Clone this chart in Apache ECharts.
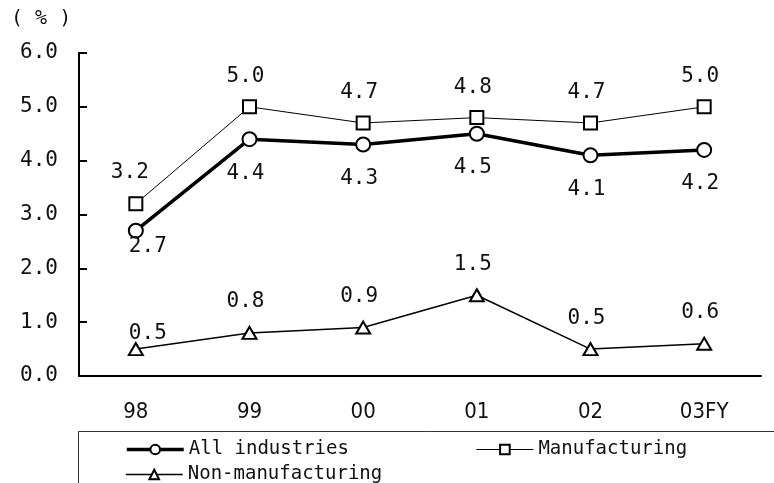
<!DOCTYPE html>
<html>
<head>
<meta charset="utf-8">
<script src="https://cdn.jsdelivr.net/npm/echarts@6/dist/echarts.min.js"></script>
<style>
  html, body { margin: 0; padding: 0; background: #fff; }
  #chart { width: 774px; height: 483px; }
</style>
</head>
<body>
<div id="chart"></div>
<script>
// Fiscal years on the category axis
const years = ['98', '99', '00', '01', '02', '03FY'];

// Ratios (%) by sector
const allIndustries = [2.7, 4.4, 4.3, 4.5, 4.1, 4.2];
const manufacturing = [3.2, 5.0, 4.7, 4.8, 4.7, 5.0];
const nonManufacturing = [0.5, 0.8, 0.9, 1.5, 0.5, 0.6];

// Value axis ticks
const yTicks = [0, 1, 2, 3, 4, 5, 6];

const numFont = '"DejaVu Sans Mono", "Liberation Mono", monospace';
const catFont = '"Liberation Sans Narrow", "DejaVu Sans Condensed", "Liberation Sans", sans-serif';

// Label placement: above (negative dy) or below the marker, with an optional
// override for the first point of a series.
function withLabels(values, dy, firstOffset) {
  return values.map((v, i) => ({
    value: v,
    label: {
      offset: i === 0 && firstOffset ? firstOffset : [-4, dy]
    }
  }));
}

const baseLabel = {
  show: true,
  position: 'inside',
  fontFamily: numFont,
  fontSize: 21,
  color: '#111',
  formatter: p => p.value.toFixed(1)
};

const legendText = { fontFamily: numFont, fontSize: 19, color: '#111' };

const chart = echarts.init(document.getElementById('chart'), null, { renderer: 'canvas' });

chart.setOption({
  animation: false,
  backgroundColor: '#fff',
  grid: { left: 79, right: 13, top: 53, bottom: 107 },
  xAxis: {
    type: 'category',
    data: years,
    boundaryGap: true,
    axisLine: { lineStyle: { color: '#000', width: 2 } },
    axisTick: { inside: true, length: 9, lineStyle: { color: '#000', width: 2 } },
    axisLabel: { margin: 25, fontFamily: catFont, fontSize: 22, color: '#111' }
  },
  yAxis: {
    type: 'value',
    min: yTicks[0],
    max: yTicks[yTicks.length - 1],
    interval: 1,
    axisLine: { show: true, lineStyle: { color: '#000', width: 2 } },
    axisTick: { show: true, inside: true, length: 8, lineStyle: { color: '#000', width: 2 } },
    splitLine: { show: false },
    axisLabel: {
      margin: 21,
      fontFamily: numFont,
      fontSize: 21,
      color: '#111',
      formatter: v => v.toFixed(1)
    }
  },
  graphic: [
    {
      type: 'text',
      left: 11,
      top: 9,
      style: { text: '( % )', font: '20px ' + numFont, fill: '#111' }
    },
    {
      type: 'rect',
      shape: { x: 78.5, y: 431.5, width: 720, height: 80 },
      style: { fill: 'none', stroke: '#333', lineWidth: 1 },
      silent: true
    }
  ],
  legend: [
    {
      data: [
        { name: 'All industries', lineStyle: { width: 3.5 } },
        { name: 'Manufacturing', lineStyle: { width: 1 } }
      ],
      left: 125,
      top: 440,
      padding: 0,
      itemWidth: 57,
      itemHeight: 12,
      itemGap: 127,
      textStyle: legendText,
      selectedMode: false
    },
    {
      data: [{ name: 'Non-manufacturing', lineStyle: { width: 1.5 } }],
      left: 125,
      top: 465,
      padding: 0,
      itemWidth: 57,
      itemHeight: 12,
      textStyle: legendText,
      selectedMode: false
    }
  ],
  series: [
    {
      name: 'Manufacturing',
      type: 'line',
      data: withLabels(manufacturing, -30, [-6, -31]),
      symbol: 'rect',
      symbolSize: 13,
      showAllSymbol: true,
      lineStyle: { color: '#000', width: 1 },
      itemStyle: { color: '#fff', borderColor: '#000', borderWidth: 2 },
      label: baseLabel,
      z: 3
    },
    {
      name: 'All industries',
      type: 'line',
      data: withLabels(allIndustries, 34, [12, 16]),
      symbol: 'circle',
      symbolSize: 14,
      showAllSymbol: true,
      lineStyle: { color: '#000', width: 3.5 },
      itemStyle: { color: '#fff', borderColor: '#000', borderWidth: 2 },
      label: baseLabel,
      z: 4
    },
    {
      name: 'Non-manufacturing',
      type: 'line',
      data: withLabels(nonManufacturing, -31, [12, -16]),
      symbol: 'triangle',
      symbolSize: [14, 12],
      showAllSymbol: true,
      lineStyle: { color: '#000', width: 1.5 },
      itemStyle: { color: '#fff', borderColor: '#000', borderWidth: 2 },
      label: baseLabel,
      z: 3
    }
  ]
});
</script>
</body>
</html>
